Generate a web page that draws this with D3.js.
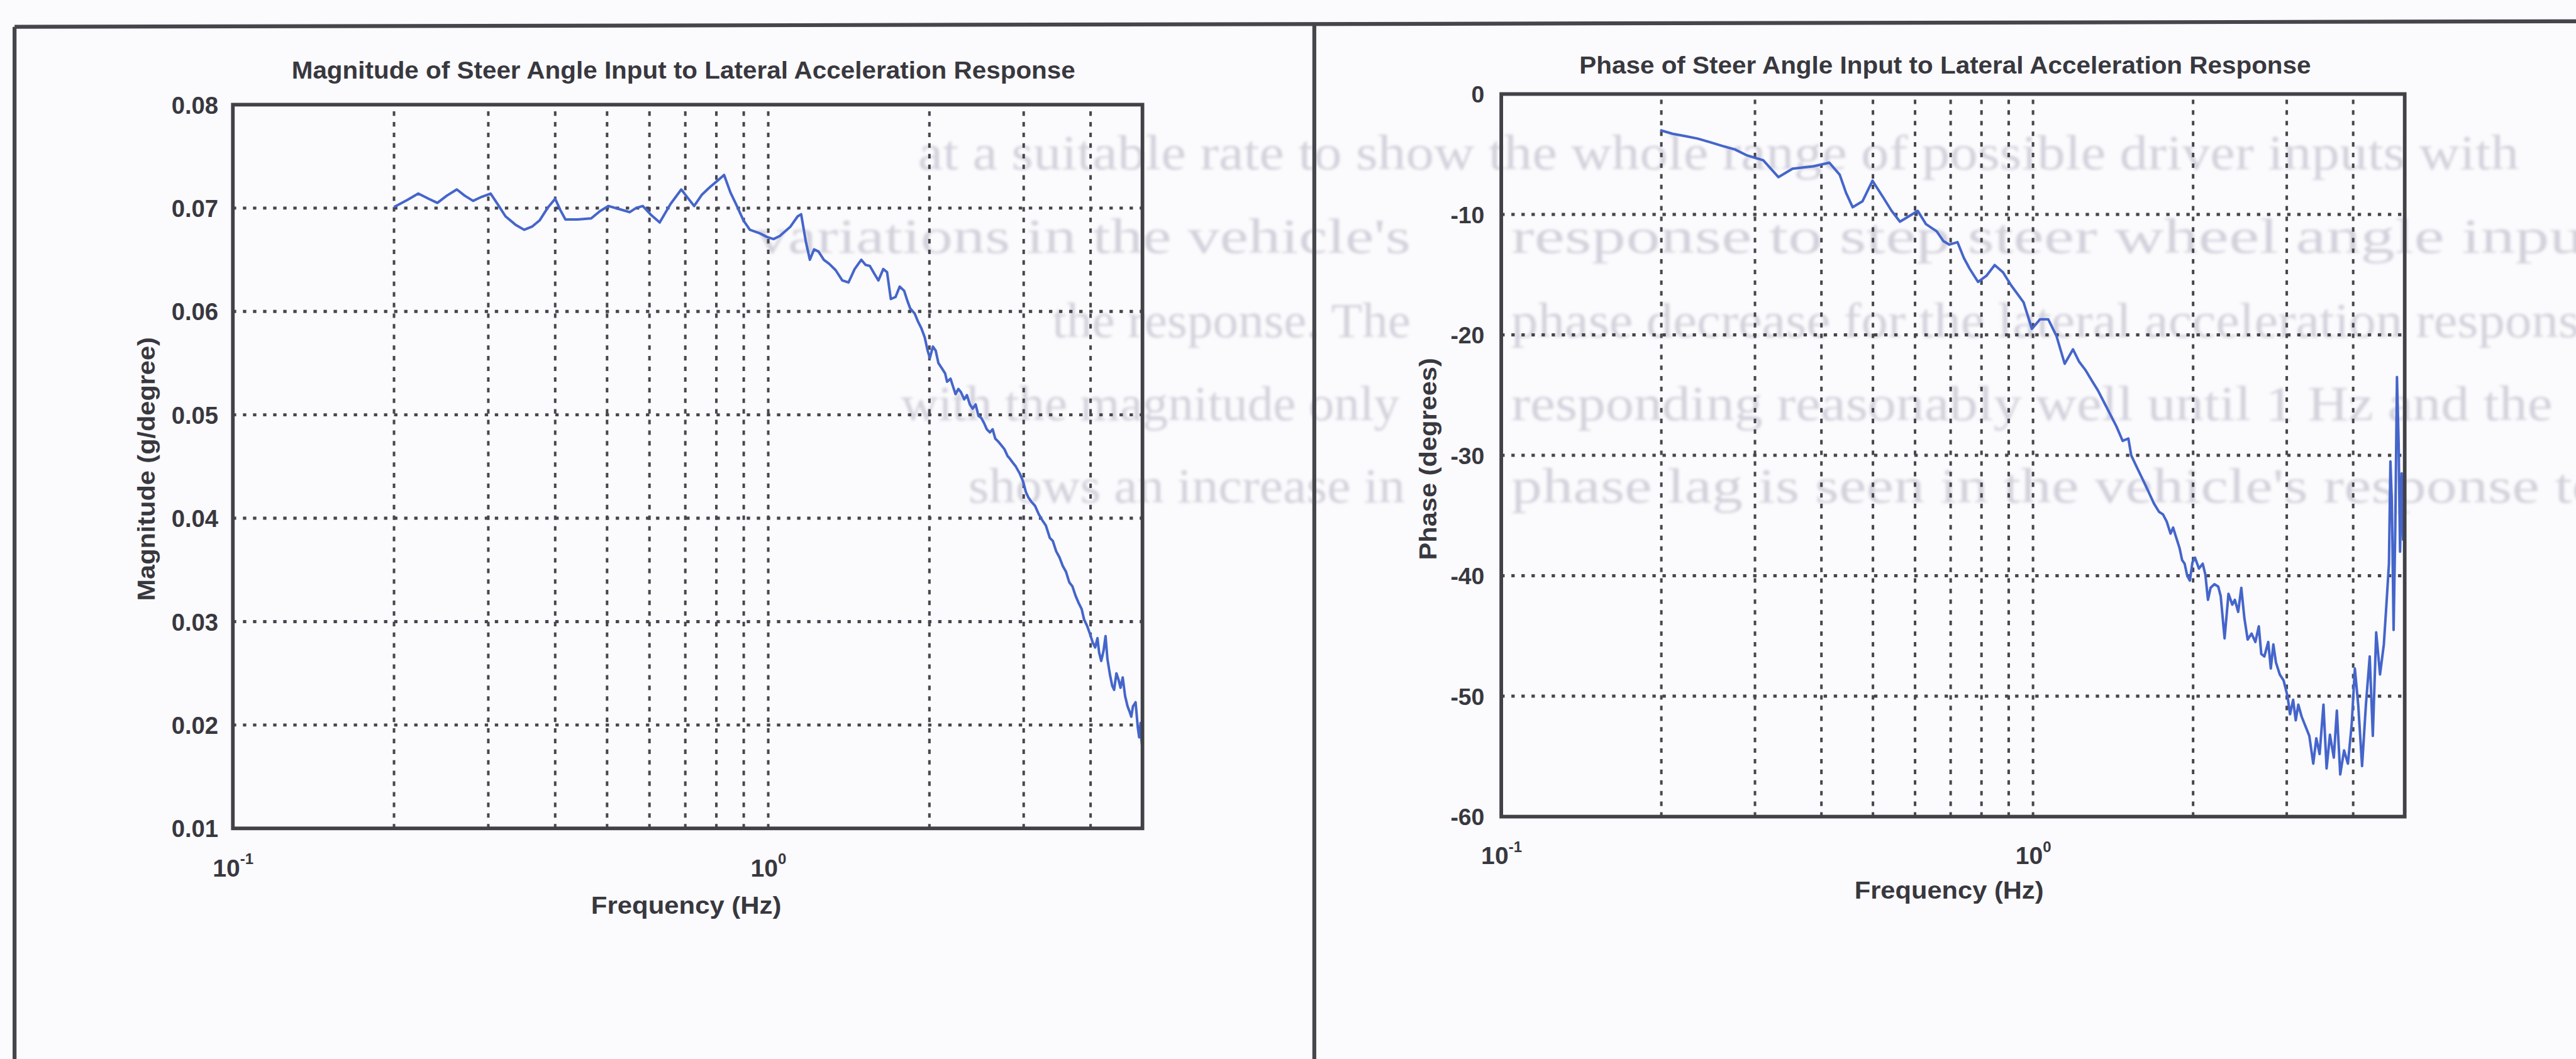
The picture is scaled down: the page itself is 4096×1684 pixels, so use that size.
<!DOCTYPE html>
<html>
<head>
<meta charset="utf-8">
<script src="https://cdn.jsdelivr.net/npm/d3@7"></script>
<style>
html,body{margin:0;padding:0;background:#fbfafc;overflow:hidden}
svg{display:block}
</style>
</head>
<body>
<svg id="chart" width="4096" height="1684"></svg>
<script>
// ---------------- DATA ----------------
const freqDomain = [0.1, 5];
const magDomain = [0.01, 0.08];
const phaseDomain = [-60, 0];
const magTicks = [0.01, 0.02, 0.03, 0.04, 0.05, 0.06, 0.07, 0.08];
const phaseTicks = [-60, -50, -40, -30, -20, -10, 0];
const freqGrid = [0.2, 0.3, 0.4, 0.5, 0.6, 0.7, 0.8, 0.9, 1, 2, 3, 4];
const freqTickValues = [0.1, 1];
const freqTickExponents = ["-1", "0"];

const magTitle = "Magnitude of Steer Angle Input to Lateral Acceleration Response";
const phaseTitle = "Phase of Steer Angle Input to Lateral Acceleration Response";
const magYLabel = "Magnitude (g/degree)";
const phaseYLabel = "Phase (degrees)";
const xLabel = "Frequency (Hz)";

const magFreq = [0.200,0.212,0.222,0.232,0.241,0.251,0.262,0.271,0.281,0.292,0.303,0.313,0.323,0.337,0.350,0.362,0.374,0.387,0.400,0.409,0.418,0.440,0.467,0.485,0.503,0.527,0.551,0.566,0.583,0.605,0.627,0.657,0.688,0.707,0.727,0.752,0.777,0.802,0.827,0.850,0.874,0.899,0.924,0.960,0.995,1.023,1.051,1.100,1.135,1.152,1.175,1.196,1.218,1.241,1.270,1.300,1.336,1.375,1.412,1.450,1.492,1.520,1.548,1.580,1.606,1.640,1.667,1.694,1.729,1.760,1.794,1.820,1.841,1.877,1.905,1.931,1.960,1.985,2.004,2.030,2.055,2.079,2.110,2.140,2.158,2.190,2.215,2.238,2.265,2.290,2.323,2.350,2.380,2.409,2.440,2.470,2.500,2.530,2.560,2.594,2.625,2.655,2.691,2.720,2.760,2.800,2.823,2.860,2.900,2.951,2.990,3.030,3.062,3.100,3.150,3.200,3.250,3.300,3.357,3.400,3.450,3.500,3.548,3.600,3.650,3.700,3.750,3.800,3.850,3.890,3.940,3.990,4.036,4.080,4.120,4.150,4.188,4.230,4.266,4.300,4.350,4.390,4.426,4.470,4.510,4.550,4.593,4.640,4.690,4.730,4.765,4.800,4.854,4.900,4.930,4.960,4.980,5.000];
const magValues = [0.0701,0.0708,0.0714,0.0709,0.0705,0.0712,0.0718,0.0712,0.0707,0.0711,0.0714,0.0703,0.0692,0.0684,0.0679,0.0682,0.0688,0.0700,0.0709,0.0698,0.0689,0.0689,0.0690,0.0697,0.0702,0.0699,0.0696,0.0700,0.0702,0.0693,0.0686,0.0704,0.0718,0.0710,0.0702,0.0713,0.0720,0.0726,0.0732,0.0715,0.0702,0.0688,0.0679,0.0676,0.0672,0.0670,0.0673,0.0682,0.0692,0.0694,0.0668,0.0650,0.0660,0.0658,0.0650,0.0646,0.0640,0.0630,0.0628,0.0641,0.0650,0.0645,0.0644,0.0636,0.0630,0.0641,0.0638,0.0612,0.0614,0.0624,0.0620,0.0610,0.0603,0.0598,0.0590,0.0584,0.0575,0.0562,0.0555,0.0566,0.0562,0.0550,0.0545,0.0540,0.0532,0.0535,0.0527,0.0520,0.0525,0.0522,0.0515,0.0519,0.0510,0.0506,0.0510,0.0499,0.0497,0.0492,0.0486,0.0483,0.0486,0.0477,0.0474,0.0471,0.0467,0.0460,0.0458,0.0454,0.0450,0.0443,0.0436,0.0425,0.0420,0.0416,0.0412,0.0404,0.0398,0.0393,0.0381,0.0378,0.0368,0.0362,0.0354,0.0348,0.0338,0.0334,0.0325,0.0318,0.0312,0.0302,0.0296,0.0288,0.0280,0.0275,0.0284,0.0270,0.0262,0.0272,0.0286,0.0264,0.0248,0.0238,0.0234,0.0250,0.0244,0.0236,0.0246,0.0228,0.0218,0.0213,0.0208,0.0218,0.0222,0.0198,0.0188,0.0202,0.0185,0.0177];

const phaseFreq = [0.199,0.210,0.222,0.234,0.247,0.260,0.275,0.290,0.311,0.332,0.353,0.370,0.386,0.414,0.433,0.445,0.458,0.478,0.499,0.523,0.542,0.562,0.592,0.607,0.629,0.659,0.678,0.696,0.721,0.741,0.760,0.788,0.817,0.847,0.878,0.910,0.935,0.960,0.995,1.031,1.068,1.107,1.147,1.189,1.220,1.254,1.290,1.324,1.360,1.397,1.435,1.474,1.511,1.530,1.560,1.600,1.640,1.688,1.726,1.755,1.784,1.814,1.834,1.855,1.886,1.907,1.928,1.950,1.972,1.994,2.017,2.051,2.085,2.109,2.133,2.157,2.193,2.230,2.254,2.292,2.331,2.370,2.396,2.431,2.464,2.497,2.533,2.576,2.619,2.658,2.687,2.723,2.769,2.800,2.831,2.863,2.911,2.960,3.010,3.043,3.084,3.119,3.154,3.200,3.254,3.308,3.365,3.410,3.459,3.517,3.565,3.617,3.678,3.727,3.782,3.845,3.910,3.975,4.029,4.088,4.157,4.227,4.297,4.355,4.419,4.493,4.568,4.619,4.670,4.700,4.730,4.765,4.800,4.835,4.870,4.900,4.935,4.965,5.000];
const phaseValues = [-3.0,-3.3,-3.5,-3.7,-4.0,-4.3,-4.6,-5.1,-5.5,-6.9,-6.2,-6.1,-6.0,-5.7,-6.7,-8.2,-9.4,-8.9,-7.2,-8.6,-9.7,-10.6,-10.0,-9.7,-10.8,-11.4,-12.2,-12.5,-12.3,-13.6,-14.5,-15.6,-15.1,-14.2,-14.8,-15.9,-16.6,-17.3,-19.5,-18.7,-18.7,-20.1,-22.4,-21.2,-22.2,-22.9,-23.8,-24.6,-25.6,-26.6,-27.6,-28.8,-28.6,-30.0,-30.8,-31.8,-32.8,-34.0,-34.7,-34.9,-35.5,-36.5,-36.0,-36.7,-37.7,-38.7,-39.0,-40.0,-40.4,-38.9,-38.5,-39.4,-39.0,-39.9,-42.0,-41.0,-40.7,-40.9,-41.7,-45.2,-41.5,-42.4,-42.0,-43.0,-41.0,-43.5,-45.3,-44.8,-45.5,-44.2,-46.5,-46.7,-45.5,-47.7,-45.7,-47.2,-48.2,-48.7,-50.0,-51.5,-50.3,-52.0,-50.7,-51.7,-52.5,-53.3,-55.6,-53.5,-54.8,-50.7,-56.0,-53.2,-55.1,-51.2,-56.5,-54.5,-55.6,-52.3,-47.7,-50.7,-55.8,-50.7,-46.7,-53.3,-44.7,-48.2,-45.7,-42.4,-39.0,-30.5,-34.0,-44.5,-36.0,-23.5,-29.0,-38.0,-31.5,-37.0,-31.5];

// faint show-through text of the scanned page (pieces of each line)
const ghostPieces = [
  "at a suitable rate to show the whole range of possible driver inputs with",
  "variations in the vehicle's",
  "response to step steer wheel angle input",
  "the response.  The",
  "phase decrease for the lateral acceleration response",
  "with the magnitude only",
  "responding reasonably well until 1 Hz and the",
  "shows an increase in",
  "phase lag is seen in the vehicle's response to"
];

// ---------------- DRAWING ----------------
const K = 4096 / 4602; // reference -> window
const svg = d3.select("#chart");
const defs = svg.append("defs");
defs.append("filter").attr("id", "soft").attr("x", "-5%").attr("y", "-50%").attr("width", "110%").attr("height", "200%")
  .append("feGaussianBlur").attr("stdDeviation", 2.2);
svg.append("rect").attr("width", 4096).attr("height", 1684).attr("fill", "#fbfafc");
const root = svg.append("g").attr("transform", `scale(${K})`);

const FONT = "'Liberation Sans', Arial, Helvetica, sans-serif";
const INK = "#38383f";

// ghost text layout
const ghostLayout = [
  {x: 1640, y: 302, w: 2860},
  {x: 1350, y: 452, w: 1170},
  {x: 2700, y: 452, w: 1950},
  {x: 1880, y: 602, w: 640},
  {x: 2700, y: 602, w: 1950},
  {x: 1610, y: 751, w: 890},
  {x: 2700, y: 751, w: 1860},
  {x: 1730, y: 898, w: 780},
  {x: 2700, y: 898, w: 1950}
];
const ghost = root.append("g").attr("fill", "#d3d2dc").attr("filter", "url(#soft)")
  .attr("font-family", "'Liberation Serif', 'DejaVu Serif', serif")
  .attr("font-size", 88);
ghost.selectAll("text").data(ghostPieces).join("text")
  .attr("x", (d, i) => ghostLayout[i].x)
  .attr("y", (d, i) => ghostLayout[i].y)
  .attr("textLength", (d, i) => ghostLayout[i].w)
  .attr("lengthAdjust", "spacingAndGlyphs")
  .text(d => d);

// page frame
const frame = root.append("g").attr("stroke", "#45454c").attr("stroke-width", 7).attr("fill", "none");
frame.append("line").attr("x1", 26).attr("y1", 48).attr("x2", 4602).attr("y2", 38);
frame.append("line").attr("x1", 26).attr("y1", 48).attr("x2", 26).attr("y2", 1892);
frame.append("line").attr("x1", 2348).attr("y1", 43).attr("x2", 2348).attr("y2", 1892);

function panel(cfg) {
  const x = d3.scaleLog().domain(freqDomain).range(cfg.xr);
  const y = d3.scaleLinear().domain(cfg.yDomain).range(cfg.yr);
  const g = root.append("g");

  // grid: vertical
  g.append("g").selectAll("line").data(freqGrid).join("line")
    .attr("x1", d => x(d)).attr("x2", d => x(d))
    .attr("y1", cfg.yr[0]).attr("y2", cfg.yr[1])
    .attr("stroke", "#46464d").attr("stroke-width", 4.5)
    .attr("stroke-dasharray", "8,11");
  // grid: horizontal
  const inner = cfg.yTicks.filter(v => v !== cfg.yDomain[0] && v !== cfg.yDomain[1]);
  g.append("g").selectAll("line").data(inner).join("line")
    .attr("x1", cfg.xr[0]).attr("x2", cfg.xr[1])
    .attr("y1", d => y(d)).attr("y2", d => y(d))
    .attr("stroke", "#46464d").attr("stroke-width", 5.5)
    .attr("stroke-dasharray", "6,12");

  // data line
  const pts = cfg.fx.map((f, i) => [f, cfg.vals[i]]);
  g.append("path").datum(pts)
    .attr("fill", "none").attr("stroke", "#4465cb").attr("stroke-width", 4.5)
    .attr("stroke-linejoin", "round")
    .attr("d", d3.line().x(d => x(d[0])).y(d => y(d[1])));

  // box
  g.append("rect")
    .attr("x", cfg.xr[0]).attr("y", cfg.yr[1])
    .attr("width", cfg.xr[1] - cfg.xr[0]).attr("height", cfg.yr[0] - cfg.yr[1])
    .attr("fill", "none").attr("stroke", "#414148").attr("stroke-width", 6.5);

  // y axis labels
  const ya = d3.axisLeft(y).tickValues(cfg.yTicks).tickFormat(cfg.fmt).tickSize(0).tickPadding(cfg.yPad);
  const yg = g.append("g").attr("transform", `translate(${cfg.xr[0]},0)`).call(ya);
  yg.select(".domain").remove();
  yg.selectAll("text").attr("font-family", FONT).attr("font-size", cfg.yFont)
    .attr("font-weight", "bold").attr("fill", INK).attr("dy", "0.36em");

  // x axis labels 10^n
  const xa = d3.axisBottom(x).tickValues(freqTickValues).tickFormat(() => "").tickSize(0).tickPadding(0);
  const xg = g.append("g").attr("transform", `translate(0,${cfg.yr[0]})`).call(xa);
  xg.select(".domain").remove();
  xg.selectAll(".tick text").each(function(d, i) {
    const t = d3.select(this).text(null)
      .attr("y", cfg.xTickBase - cfg.yr[0]).attr("dy", null)
      .attr("font-family", FONT).attr("font-weight", "bold").attr("fill", INK)
      .attr("text-anchor", "middle");
    t.append("tspan").attr("font-size", 44).text("10");
    t.append("tspan").attr("font-size", 27).attr("dy", -22).text(freqTickExponents[i]);
  });

  // title
  g.append("text").attr("x", cfg.title.x).attr("y", cfg.title.y)
    .attr("text-anchor", "middle").attr("font-family", FONT).attr("font-weight", "bold")
    .attr("font-size", 44).attr("fill", INK)
    .attr("textLength", cfg.title.w).attr("lengthAdjust", "spacingAndGlyphs")
    .text(cfg.title.text);
  // x label
  g.append("text").attr("x", cfg.xl.x).attr("y", cfg.xl.y)
    .attr("text-anchor", "middle").attr("font-family", FONT).attr("font-weight", "bold")
    .attr("font-size", 44).attr("fill", INK)
    .attr("textLength", cfg.xl.w).attr("lengthAdjust", "spacingAndGlyphs")
    .text(xLabel);
  // y label
  g.append("text").attr("transform", `translate(${cfg.yl.x},${cfg.yl.y}) rotate(-90)`)
    .attr("text-anchor", "middle").attr("font-family", FONT).attr("font-weight", "bold")
    .attr("font-size", 44).attr("fill", INK)
    .attr("textLength", cfg.yl.w).attr("lengthAdjust", "spacingAndGlyphs")
    .text(cfg.yl.text);
}

panel({
  xr: [416, 2041], yr: [1480, 187], yDomain: magDomain, yTicks: magTicks,
  fmt: d3.format(".2f"), yPad: 26, yFont: 43,
  fx: magFreq, vals: magValues, xTickBase: 1566,
  title: {x: 1221, y: 140, w: 1400, text: magTitle},
  xl: {x: 1226, y: 1632, w: 340},
  yl: {x: 276, y: 838, w: 471, text: magYLabel}
});

panel({
  xr: [2682, 4296], yr: [1459, 168], yDomain: phaseDomain, yTicks: phaseTicks,
  fmt: d => String(d), yPad: 30, yFont: 42,
  fx: phaseFreq, vals: phaseValues, xTickBase: 1544,
  title: {x: 3475, y: 131, w: 1307, text: phaseTitle},
  xl: {x: 3482, y: 1606, w: 338},
  yl: {x: 2566, y: 820, w: 361, text: phaseYLabel}
});
</script>
</body>
</html>
